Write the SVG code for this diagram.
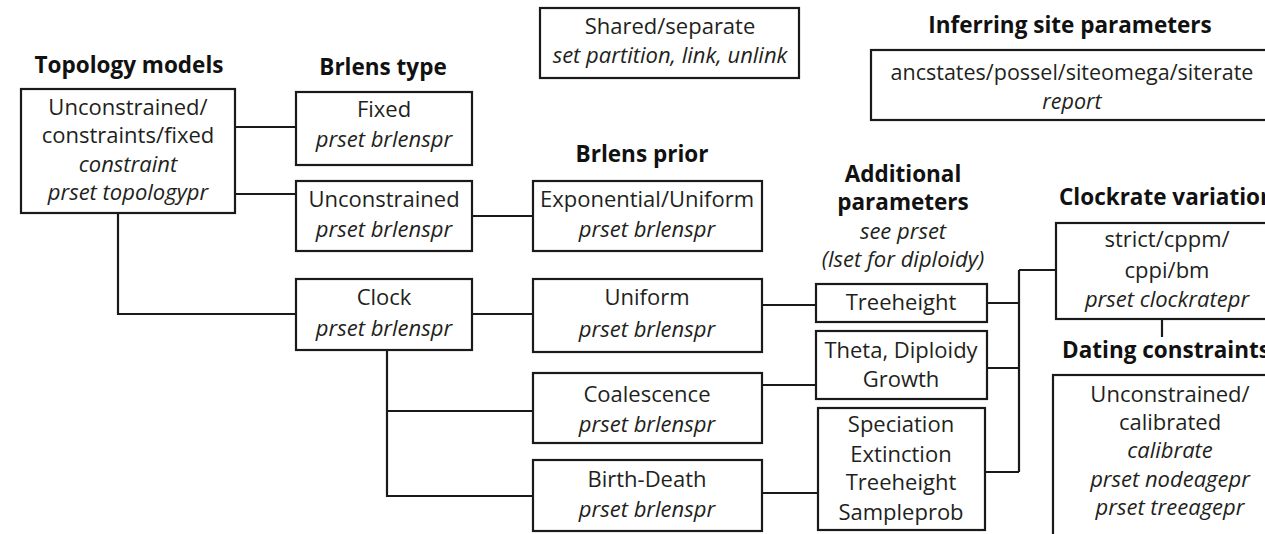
<svg xmlns="http://www.w3.org/2000/svg" width="1265" height="534" viewBox="0 0 1265 534">
<style>
text{font-family:"Open Sans","Noto Sans","Liberation Sans",sans-serif;fill:#231f20;text-anchor:middle}
.t{font-weight:bold;font-size:22.5px;fill:#111}
.b{font-size:22px}
.i{font-size:22px;font-style:italic}
.s{text-anchor:start}
rect{fill:#fff;stroke:#1a1a1a;stroke-width:2.2}
#connectors path{fill:none;stroke:#1a1a1a;stroke-width:2.2}
</style>
<rect x="0" y="0" width="1265" height="534" style="fill:#fff;stroke:none"/>
<g id="titles">
<text class="t" x="129" y="73">Topology models</text>
<text class="t" x="383" y="75">Brlens type</text>
<text class="t" x="642" y="162">Brlens prior</text>
<text class="t" x="1070" y="33">Inferring site parameters</text>
<text class="t" x="903" y="182">Additional</text>
<text class="t" x="903" y="210">parameters</text>
<text class="i" x="903" y="239">see prset</text>
<text class="i" x="903" y="267">(lset for diploidy)</text>
<text class="t s" x="1059" y="205">Clockrate variation</text>
<text class="t s" x="1062" y="358">Dating constraints</text>
</g>
<g id="connectors">
<path d="M235 127H296M235 194H296M118 213V314H296"/>
<path d="M472 216H533M472 314H533M387 350V496H533M387 411H533"/>
<path d="M762 305H816M762 385H816M762 493H818"/>
<path d="M987 303H1019M987 368H1019M985 472H1019M1019 270V472M1019 270H1056"/>
<path d="M1162 319V337"/>
</g>
<g id="shared">
<rect x="540" y="8" width="259" height="70"/>
<text class="b" x="670" y="34">Shared/separate</text>
<text class="i" x="670" y="63">set partition, link, unlink</text>
</g>
<g id="inferring">
<rect x="871" y="50" width="410" height="70"/>
<text class="b" x="1072" y="80" style="font-size:21.5px">ancstates/possel/siteomega/siterate</text>
<text class="i" x="1072" y="109" style="font-size:21.5px">report</text>
</g>
<g id="topology">
<rect x="21" y="89" width="214" height="124"/>
<text class="b" x="128" y="115">Unconstrained/</text>
<text class="b" x="128" y="143">constraints/fixed</text>
<text class="i" x="128" y="172">constraint</text>
<text class="i" x="128" y="200">prset topologypr</text>
</g>
<g id="fixed">
<rect x="296" y="92" width="176" height="73"/>
<text class="b" x="384" y="117">Fixed</text>
<text class="i" x="384" y="147">prset brlenspr</text>
</g>
<g id="unconstrained">
<rect x="296" y="181" width="176" height="70"/>
<text class="b" x="384" y="207">Unconstrained</text>
<text class="i" x="384" y="237">prset brlenspr</text>
</g>
<g id="clock">
<rect x="296" y="279" width="176" height="71"/>
<text class="b" x="384" y="305">Clock</text>
<text class="i" x="384" y="336">prset brlenspr</text>
</g>
<g id="expuniform">
<rect x="533" y="181" width="229" height="70"/>
<text class="b" x="647" y="207">Exponential/Uniform</text>
<text class="i" x="647" y="237">prset brlenspr</text>
</g>
<g id="uniform">
<rect x="533" y="279" width="229" height="73"/>
<text class="b" x="647" y="305">Uniform</text>
<text class="i" x="647" y="337">prset brlenspr</text>
</g>
<g id="coalescence">
<rect x="533" y="373" width="229" height="70"/>
<text class="b" x="647" y="402">Coalescence</text>
<text class="i" x="647" y="432">prset brlenspr</text>
</g>
<g id="birthdeath">
<rect x="533" y="460" width="229" height="71"/>
<text class="b" x="647" y="487">Birth-Death</text>
<text class="i" x="647" y="517">prset brlenspr</text>
</g>
<g id="treeheight">
<rect x="816" y="284" width="171" height="38"/>
<text class="b" x="901" y="310">Treeheight</text>
</g>
<g id="theta">
<rect x="816" y="331" width="171" height="68"/>
<text class="b" x="901" y="358">Theta, Diploidy</text>
<text class="b" x="901" y="387">Growth</text>
</g>
<g id="speciation">
<rect x="818" y="408" width="167" height="122"/>
<text class="b" x="901" y="432">Speciation</text>
<text class="b" x="901" y="462">Extinction</text>
<text class="b" x="901" y="490">Treeheight</text>
<text class="b" x="901" y="520">Sampleprob</text>
</g>
<g id="clockrate">
<rect x="1056" y="223" width="230" height="96"/>
<text class="b" x="1167" y="247">strict/cppm/</text>
<text class="b" x="1167" y="278">cppi/bm</text>
<text class="i" x="1167" y="307">prset clockratepr</text>
</g>
<g id="dating">
<rect x="1053" y="375" width="230" height="180"/>
<text class="b" x="1170" y="402">Unconstrained/</text>
<text class="b" x="1170" y="430">calibrated</text>
<text class="i" x="1170" y="458">calibrate</text>
<text class="i" x="1170" y="487">prset nodeagepr</text>
<text class="i" x="1170" y="515">prset treeagepr</text>
</g>
</svg>
